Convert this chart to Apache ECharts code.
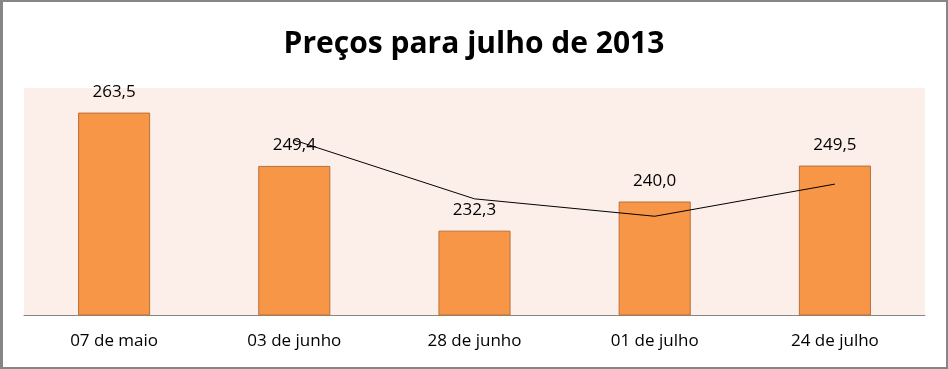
<!DOCTYPE html>
<html>
<head>
<meta charset="utf-8">
<script src="https://cdn.jsdelivr.net/npm/echarts@6/dist/echarts.min.js"></script>
<style>
  html, body { margin: 0; padding: 0; background: #ffffff; }
  #wrap { width: 948px; height: 369px; box-sizing: border-box; border: 2px solid #868686; border-left-width: 3px; position: relative; background: #fff; }
  #chart { position: absolute; left: -3px; top: -2px; width: 948px; height: 369px; }
</style>
</head>
<body>
<div id="wrap"><div id="chart"></div></div>
<script>
var categories = ['07 de maio', '03 de junho', '28 de junho', '01 de julho', '24 de julho'];
var prices = [263.5, 249.4, 232.3, 240.0, 249.5];
var trendValues = [null, 256.2, 240.7, 236.1, 244.6];
var titleText = 'Preços para julho de 2013';

var chart = echarts.init(document.getElementById('chart'), null, { renderer: 'canvas' });
chart.setOption({
  animation: false,
  backgroundColor: 'transparent',
  title: {
    text: titleText,
    left: 'center',
    top: 24,
    textStyle: { fontFamily: 'Open Sans', fontWeight: 'bold', fontSize: 30, color: '#000' }
  },
  grid: {
    left: 24, right: 23, top: 88, bottom: 54,
    show: true, backgroundColor: '#fcefe9', borderWidth: 0
  },
  xAxis: {
    type: 'category',
    data: categories,
    axisLine: { show: true, lineStyle: { color: '#868686', width: 1 } },
    axisTick: { show: false },
    axisLabel: { fontFamily: 'Open Sans', fontSize: 17, color: '#000', margin: 18 }
  },
  yAxis: {
    type: 'value', min: 210, max: 270, show: false,
    splitLine: { show: false }
  },
  series: [
    {
      type: 'bar',
      data: prices,
      barWidth: '40%',
      itemStyle: { color: '#f79646', borderColor: '#b8703a', borderWidth: 1 },
      label: {
        show: true, position: 'top', distance: 12,
        fontFamily: 'Open Sans', fontSize: 17, color: '#000',
        formatter: function (p) { return p.value.toFixed(1).replace('.', ','); }
      },
      z: 2
    },
    {
      type: 'line',
      data: trendValues,
      symbol: 'none',
      lineStyle: { color: '#000', width: 1 },
      z: 3
    }
  ]
});
</script>
</body>
</html>
